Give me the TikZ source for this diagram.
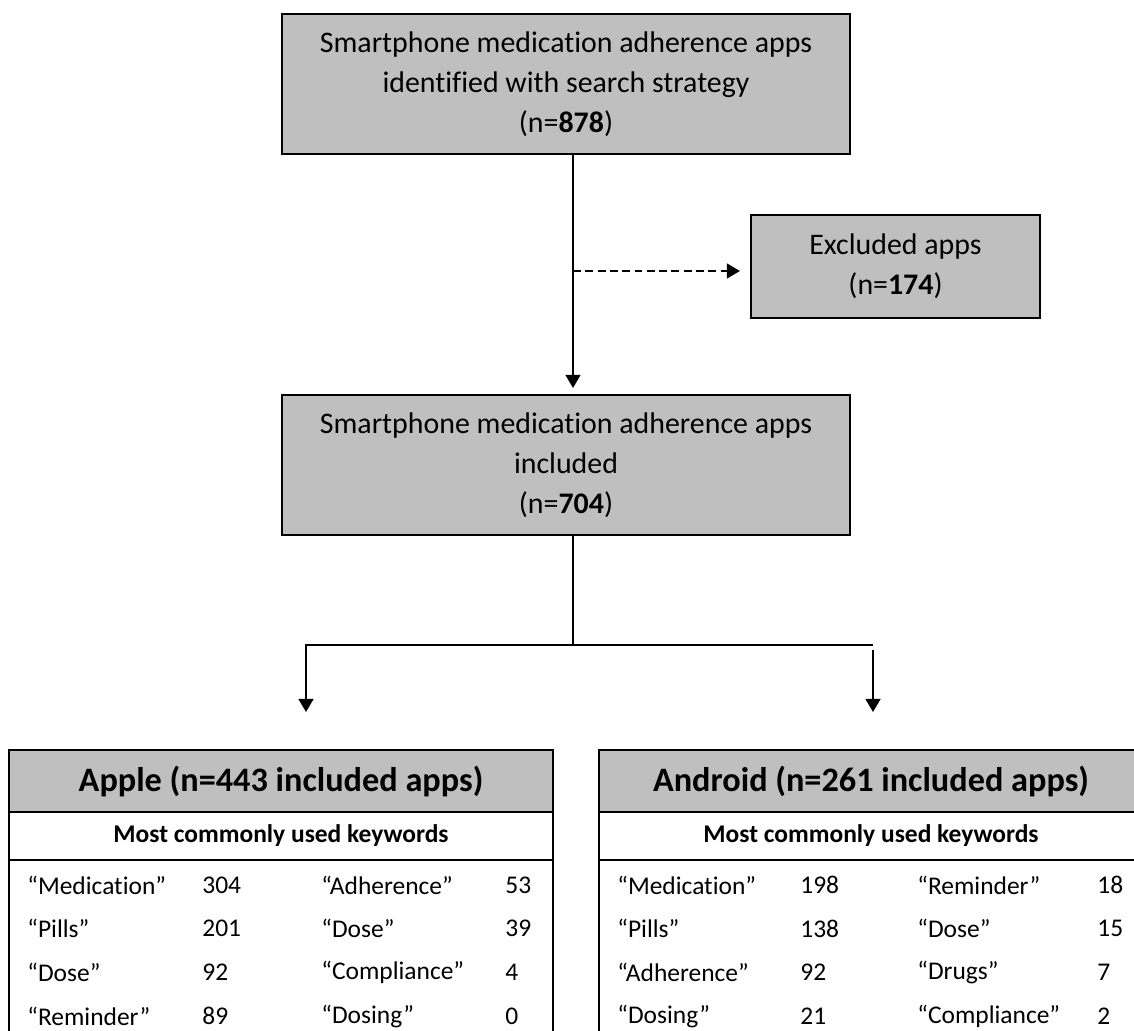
\documentclass[tikz,border=0pt]{standalone}
\usepackage{fontspec}
\setmainfont{Carlito}[Ligatures=NoCommon]
\usepackage{xcolor}
\usetikzlibrary{positioning, arrows.meta, calc}
\definecolor{boxGray}{HTML}{BFBFBF}
\tikzset{
  every node/.style={font=\fontsize{17}{22.8}\selectfont},
  line/.style={line width=1.2pt},
  arr/.style={-{Triangle[width=8.5pt,length=7.5pt]}, line width=1.2pt},
  arrd/.style={arr, dash pattern=on 4.5pt off 2.5pt},
  flowbox/.style={draw, line width=1.2pt, fill=boxGray, align=center, inner sep=4pt,
                  minimum width=11.36cm, minimum height=2.8cm},
  exclbox/.style={flowbox, minimum width=5.78cm, minimum height=2.06cm},
  tblhead/.style={draw, line width=1.5pt, fill=boxGray, outer sep=0pt,
                  minimum width=10.88cm, minimum height=1.24cm,
                  font=\bfseries\fontsize{19.5}{23}\selectfont},
  tblsub/.style={draw, line width=1.2pt, fill=white, outer sep=0pt,
                 minimum width=10.88cm, minimum height=0.96cm,
                 font=\bfseries\fontsize{14.5}{17}\selectfont},
  tblbody/.style={draw, line width=1.5pt, outer sep=0pt,
                  minimum width=10.88cm, minimum height=4cm},
  kw/.style={anchor=west, inner sep=0pt, font=\fontsize{14.5}{17}\selectfont},
}

\begin{document}
\begin{tikzpicture}
  \useasboundingbox (0,0) rectangle (22.68,-20.6);
  \clip (0,0) rectangle (22.68,-20.6);
  % flow boxes
  \node[flowbox] (ident) at (11.32,-1.68) {Smartphone medication adherence apps\\identified with search strategy\\(n=\textbf{878})};
  \node[exclbox] (excl)  at (17.91,-5.33) {Excluded apps\\(n=\textbf{174})};
  \node[flowbox] (incl)  at (11.32,-9.3) {Smartphone medication adherence apps\\included\\(n=\textbf{704})};
  % trunk and fork points
  \coordinate (split)     at (11.46,-5.42);
  \coordinate (fork)      at (11.46,-12.9);
  \coordinate (forkL)     at (6.12,-12.9);
  \coordinate (forkR)     at (17.46,-12.9);
  \coordinate (appleIn)   at (6.12,-14.24);
  \coordinate (androidIn) at (17.46,-14.24);
  % connectors
  \draw[arr, shorten >=0.12cm] (ident.south -| split) -- (incl.north -| split);
  \draw[arrd, shorten >=0.2cm] (split) -- (split -| excl.west);
  \draw[line] (incl.south -| fork) -- (fork);
  \draw[arr] (forkR) -- (forkL) -- (appleIn);
  \draw[arr] ([yshift=-3pt]forkR) -- (androidIn);
  % apple table
  \node[tblhead] (apHead) at (5.62,-15.62) {Apple (n=443 included apps)};
  \node[tblsub, below=0pt of apHead] (apSub) {Most commonly used keywords};
  \node[tblbody, below=0pt of apSub] (apBody) {};
  \foreach \ka/\na/\kb/\nb [count=\i] in {Medication/304/Adherence/53, Pills/201/Dose/39,
      Dose/92/Compliance/4, Reminder/89/Dosing/0}{
    \node[kw] (apKw\i)   at (0.54,{-17.7-0.875*(\i-1)}) {“\ka”};
    \node[kw] (apNum\i)  at (4.04,{-17.7-0.875*(\i-1)}) {\na};
    \node[kw] (apKwB\i)  at (6.42,{-17.7-0.875*(\i-1)}) {“\kb”};
    \node[kw] (apNumB\i) at (10.1,{-17.7-0.875*(\i-1)}) {\nb};
  }
  % android table
  \node[tblhead] (anHead) at (17.42,-15.62) {Android (n=261 included apps)};
  \node[tblsub, below=0pt of anHead] (anSub) {Most commonly used keywords};
  \node[tblbody, below=0pt of anSub] (anBody) {};
  \foreach \ka/\na/\kb/\nb [count=\i] in {Medication/198/Reminder/18, Pills/138/Dose/15,
      Adherence/92/Drugs/7, Dosing/21/Compliance/2}{
    \node[kw] (anKw\i)   at (12.34,{-17.7-0.875*(\i-1)}) {“\ka”};
    \node[kw] (anNum\i)  at (16.0,{-17.7-0.875*(\i-1)}) {\na};
    \node[kw] (anKwB\i)  at (18.34,{-17.7-0.875*(\i-1)}) {“\kb”};
    \node[kw] (anNumB\i) at (21.94,{-17.7-0.875*(\i-1)}) {\nb};
  }
\end{tikzpicture}
\end{document}
